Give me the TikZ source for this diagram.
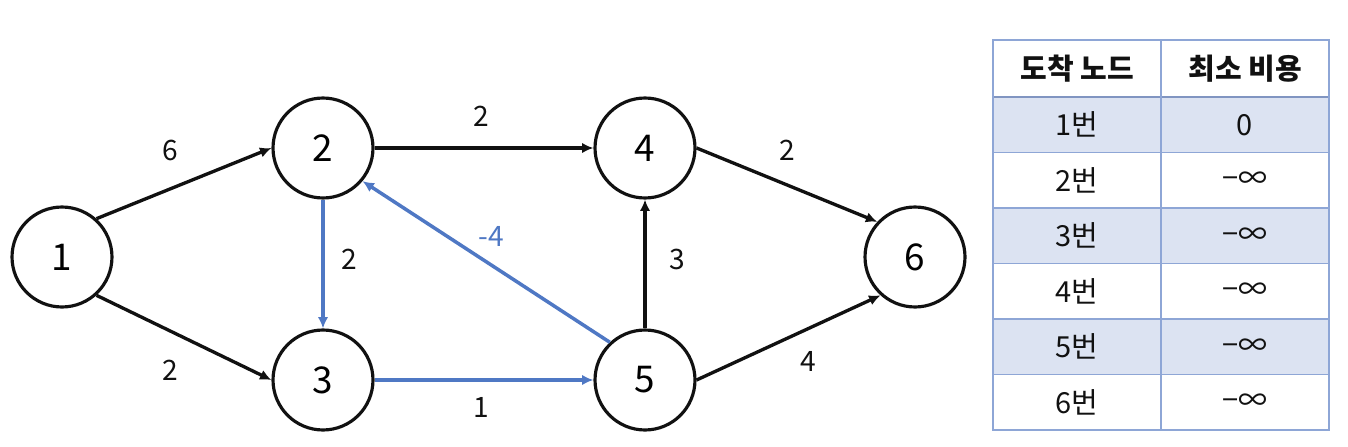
\documentclass[tikz,border=0pt]{standalone}
\usepackage{fontspec}
\setmainfont{Noto Sans CJK KR}
\usetikzlibrary{arrows.meta}
\definecolor{Ink}{HTML}{111111}
\definecolor{Edge}{HTML}{4F78C4}
\definecolor{Grid}{HTML}{8EA6D6}
\definecolor{Band}{HTML}{DCE3F2}
\tikzset{
    vertex/.style={circle, draw=Ink, line width=1.8pt, minimum size=2.0cm, inner sep=0pt, font=\fontsize{21}{24}\selectfont},
    arc/.style={-{Latex[length=6.5pt,width=6pt]}, line width=1.9pt, color=Ink},
    hlarc/.style={arc, line width=2pt, color=Edge},
    weight/.style={font=\fontsize{16}{18}\selectfont, text=Ink},
    cell/.style={font=\fontsize{16.5}{19}\selectfont, text=Ink},
    headcell/.style={cell, font=\bfseries\fontsize{16.5}{19}\selectfont},
    gridline/.style={draw=Grid, line width=0.8pt},
}
\begin{document}
\begin{tikzpicture}[x=0.02cm, y=-0.02cm]
    \useasboundingbox (0,0) rectangle (1348,446);

    % Nodi
    \node[vertex] (v1) at (62,257) {1};
    \node[vertex] (v2) at (323,148) {2};
    \node[vertex] (v3) at (323,380) {3};
    \node[vertex] (v4) at (645,148) {4};
    \node[vertex] (v5) at (645,380) {5};
    \node[vertex] (v6) at (915,257) {6};

    % Archi
    \draw[arc] (v1.48) -- (v2.west);
    \draw[arc] (v1.-48) -- (v3.west);
    \draw[arc] (v2.east) -- (v4.west);
    \draw[hlarc] (v2.south) -- (v3.north);
    \draw[hlarc] (v3.east) -- (v5.west);
    \draw[hlarc] (v5.133) -- (v2.-40);
    \draw[arc] (v5.north) -- (v4.south);
    \draw[arc] (v4.east) -- (v6.137);
    \draw[arc] (v5.east) -- (v6.-132);

    % Pesi
    \node[weight] (w12) at (170,150) {6};
    \node[weight] (w13) at (170,370) {2};
    \node[weight] (w24) at (481,116) {2};
    \node[weight] (w23) at (349,259) {2};
    \node[weight, text=Edge] (w52) at (491,236) {-4};
    \node[weight] (w35) at (481,407) {1};
    \node[weight] (w54) at (677,259) {3};
    \node[weight] (w46) at (787,150) {2};
    \node[weight] (w56) at (808,361) {4};

    % Tabella
    \foreach \r in {1,3,5}
        \fill[Band] (993,{97+55.5*(\r-1)}) rectangle (1329,{97+55.5*\r});
    \foreach \r in {1,...,5}
        \draw[gridline] (993,{97+55.5*\r}) -- (1329,{97+55.5*\r});
    \draw[gridline, line width=1.6pt, draw=Grid!90!black] (993,97) -- (1329,97);
    \draw[gridline] (993,40) rectangle (1329,430);
    \draw[gridline] (1161,40) -- (1161,430);

    \node[headcell] (hdest) at (1077,69) {도착 노드};
    \node[headcell] (hcost) at (1245,69) {최소 비용};
    \foreach \r/\c in {1/0, 2/−∞, 3/−∞, 4/−∞, 5/−∞, 6/−∞} {
        \node[cell] (dest\r) at (1077,{97+55.5*(\r-0.5)}) {\r{}번};
        \node[cell] (cost\r) at (1245,{97+55.5*(\r-0.5)}) {\c};
    }
\end{tikzpicture}
\end{document}
